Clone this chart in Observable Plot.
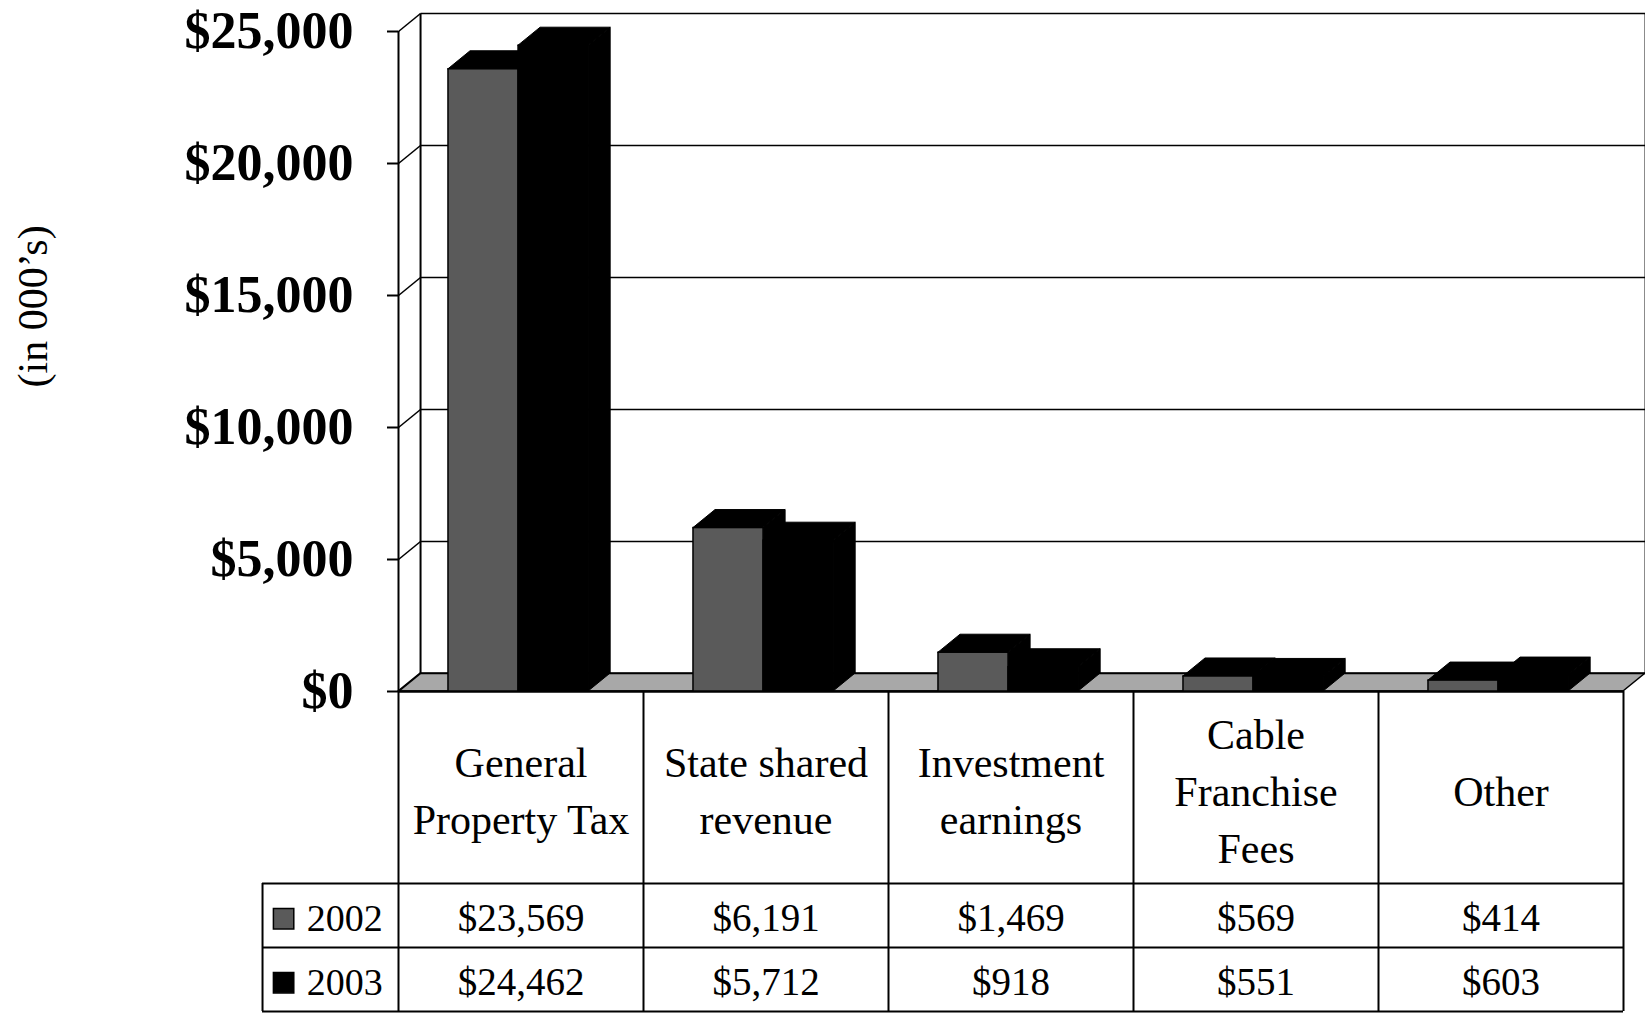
<!DOCTYPE html>
<html><head><meta charset="utf-8">
<script src="https://cdn.jsdelivr.net/npm/d3@7"></script>
<script src="https://cdn.jsdelivr.net/npm/@observablehq/plot@0.6"></script>
<style>
html,body{margin:0;padding:0;background:#fff;overflow:hidden;}
#chart svg,#table svg{display:block;}
</style></head><body>
<div id="chart"></div><div id="table"></div>
<script>
// ---- data ----
const categories = ["General\nProperty Tax", "State shared\nrevenue", "Investment\nearnings", "Cable\nFranchise\nFees", "Other"];
const years = ["2002", "2003"];
const values2002 = [23569, 6191, 1469, 569, 414];
const values2003 = [24462, 5712, 918, 551, 603];
const yTicks = [0, 5000, 10000, 15000, 20000, 25000];
const yLabel = "(in 000\u2019s)";

// ---- styling / geometry ----
const FONT = "'Liberation Serif', 'Times New Roman', serif";
const colors = ["#5a5a5a", "#000000"];
const depthX = 0.09;   // 3D depth along x (category units)
const depthY = 682;    // 3D depth along y (value units)
const barW = 0.286;
const barStart = [0.204, 0.49];
const n = categories.length;
const fmt = d => "$" + d3.format(",")(d);

const series = [values2002, values2003];
const bars = series.flatMap((vals, s) => vals.map((v, i) => ({
  i, s, v, key: i + "-" + s, x1: i + barStart[s], x2: i + barStart[s] + barW
})));
const tops = bars.flatMap(b => [
  {key: b.key, y: b.v, x1: b.x1, x2: b.x2},
  {key: b.key, y: b.v + depthY, x1: b.x1 + depthX, x2: b.x2 + depthX}
]);
const sides = bars.flatMap(b => [
  {key: b.key, x: b.x2, y1: 0, y2: b.v},
  {key: b.key, x: b.x2 + depthX, y1: depthY, y2: b.v + depthY}
]);
const floor = [{y: 0, x1: 0, x2: n}, {y: depthY, x1: depthX, x2: n + depthX}];
const yMax = yTicks[yTicks.length - 1];

const chart = Plot.plot({
  width: 1645, height: 692,
  marginLeft: 398, marginRight: 22, marginTop: 31, marginBottom: 1,
  x: {domain: [0, n], axis: null},
  y: {domain: [0, yMax]},
  color: {type: "identity"},
  style: {fontFamily: FONT, color: "#000", background: "#fff", overflow: "visible"},
  marks: [
    Plot.areaX(floor, {y: "y", x1: "x1", x2: "x2", fill: "#a8a8a8", stroke: "#000", strokeWidth: 1.5}),
    Plot.link(yTicks, {x1: depthX, x2: n + depthX, y1: d => d + depthY, y2: d => d + depthY, stroke: "#000", strokeWidth: 1.6}),
    Plot.link(yTicks, {x1: 0, x2: depthX, y1: d => d, y2: d => d + depthY, stroke: "#000", strokeWidth: 1.6}),
    Plot.link([0, n], {x1: d => d + depthX, x2: d => d + depthX, y1: depthY, y2: yMax + depthY, stroke: "#000", strokeWidth: 2}),
    Plot.ruleX([0], {y1: 0, y2: yMax, stroke: "#000", strokeWidth: 2}),
    Plot.ruleY([0], {x1: 0, x2: n, stroke: "#000", strokeWidth: 2.5}),
    Plot.areaY(sides, {x: "x", y1: "y1", y2: "y2", z: "key", fill: "#000", stroke: "#000", strokeWidth: 1}),
    Plot.areaX(tops, {y: "y", x1: "x1", x2: "x2", z: "key", fill: "#000", stroke: "#000", strokeWidth: 1}),
    Plot.rectY(bars, {x1: "x1", x2: "x2", y1: 0, y2: "v", fill: d => colors[d.s], stroke: "#000", strokeWidth: 1.5}),
    Plot.axisY(yTicks, {tickSize: 11, tickPadding: 34, tickFormat: fmt, fontSize: 52, fontWeight: "bold", strokeWidth: 2, label: null}),
    Plot.text([yLabel], {frameAnchor: "left", rotate: -90, dx: -365, dy: 26, fontSize: 42})
  ]
});
document.getElementById("chart").appendChild(chart);

// ---- data table below the chart ----
const legendLeft = -0.555;
const table = Plot.plot({
  width: 1645, height: 322,
  marginLeft: 398, marginRight: 22, marginTop: 0, marginBottom: 0,
  x: {domain: [0, n], axis: null},
  y: {domain: [0, 5], range: [-1, 319], axis: null},
  color: {type: "identity"},
  style: {fontFamily: FONT, color: "#000", background: "#fff", overflow: "visible"},
  marks: [
    Plot.ruleX(d3.range(n + 1), {y1: 0, y2: 5, stroke: "#000", strokeWidth: 2}),
    Plot.ruleX([legendLeft], {y1: 3, y2: 5, stroke: "#000", strokeWidth: 2}),
    Plot.ruleY([3, 4, 5], {x1: legendLeft, x2: n, stroke: "#000", strokeWidth: 2}),
    Plot.text(categories, {x: (d, i) => i + 0.5, y: 1.5, text: d => d, fontSize: 42, lineHeight: 1.36}),
    Plot.text(values2002, {x: (d, i) => i + 0.5, y: 3.55, text: fmt, fontSize: 39}),
    Plot.text(values2003, {x: (d, i) => i + 0.5, y: 4.55, text: fmt, fontSize: 39}),
    Plot.dot(years, {x: -0.469, y: (d, i) => 3.55 + i, symbol: "square", r: 11.5, fill: (d, i) => colors[i], stroke: "#000", strokeWidth: 1.5}),
    Plot.text(years, {x: -0.375, y: (d, i) => 3.55 + i, text: d => d, textAnchor: "start", fontSize: 38})
  ]
});
document.getElementById("table").appendChild(table);
</script>
</body></html>
